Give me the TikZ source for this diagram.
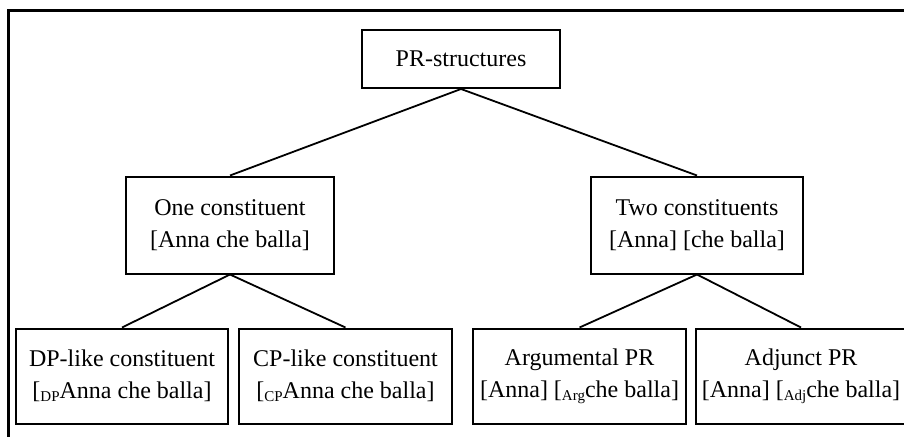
\documentclass[tikz,border=0pt]{standalone}
\usepackage{fontspec}
\setmainfont{Liberation Serif}
\newcommand{\lsub}[1]{\raisebox{-3pt}{\fontsize{15}{15}\selectfont #1}}
\begin{document}
\begin{tikzpicture}[x=1pt,y=-1pt,
  box/.style={draw,line width=2pt,rectangle,inner sep=0pt,align=center,
    font=\fontsize{24}{32}\selectfont},
  link/.style={line width=1.8pt}]
\useasboundingbox (0,0) rectangle (904,436);
\draw[line width=2.3pt] (906,10.5) -- (8.5,10.5) -- (8.5,438);
\node[box,minimum width=198pt,minimum height=58pt] (pr) at (461,59) {PR-structures};
\node[box,minimum width=208pt,minimum height=97pt] (one) at (230,225) {One constituent\\{}[Anna che balla]};
\node[box,minimum width=212pt,minimum height=97pt] (two) at (697,225) {Two constituents\\{}[Anna] [che balla]};
\node[box,minimum width=212pt,minimum height=95pt] (dp) at (122,376) {DP-like constituent\\{}[\lsub{DP}Anna che balla]};
\node[box,minimum width=213pt,minimum height=95pt] (cp) at (345.5,376) {CP-like constituent\\{}[\lsub{CP}Anna che balla]};
\node[box,minimum width=213pt,minimum height=95pt] (arg) at (579.5,376) {Argumental PR\\{}[Anna] [\lsub{Arg}che balla]};
\node[box,minimum width=210pt,minimum height=95pt] (adj) at (801,376) {Adjunct PR\\{}[Anna] [\lsub{Adj}che balla]};
\draw[link] (pr.south) -- (one.north);
\draw[link] (pr.south) -- (two.north);
\draw[link] (one.south) -- (dp.north);
\draw[link] (one.south) -- (cp.north);
\draw[link] (two.south) -- (arg.north);
\draw[link] (two.south) -- (adj.north);
\end{tikzpicture}
\end{document}
